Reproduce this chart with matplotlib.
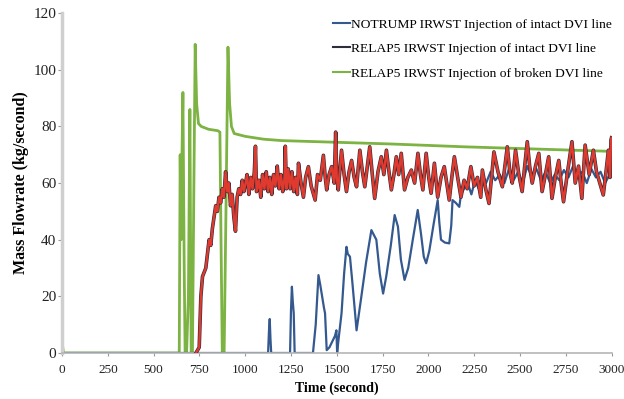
import matplotlib.pyplot as plt

plt.rcParams['font.family'] = ['Liberation Serif', 'DejaVu Serif']

# ===========================
# DATA
# ===========================
green_t = [0, 8, 640, 645, 650, 655, 660, 667, 672, 680,
           690, 698, 705, 712, 720, 727, 735, 745, 760, 800,
           850, 862, 868, 875, 885, 895, 906, 915, 925, 940,
           1000, 1100, 1200, 1400, 1600, 1800, 2000, 2200, 2400, 2600,
           2800, 2950, 2990]
green_v = [4, 0, 0, 70, 40, 70, 92, 30, 0, 0,
           20, 86, 0, 0, 60, 109, 88, 81, 80, 79,
           78.5, 78, 40, 0, 0, 50, 108, 88, 80, 77.5,
           76.5, 75.5, 75, 74.6, 74.2, 73.8, 73.3, 72.8, 72.4, 72,
           71.6, 71.3, 71.2]

blue_t = [0, 1125, 1130, 1134, 1138, 1142, 1245, 1250, 1255, 1260,
          1265, 1270, 1370, 1385, 1400, 1410, 1420, 1430, 1436, 1445,
          1460, 1475, 1490, 1498, 1502, 1510, 1526, 1540, 1553, 1560,
          1572, 1585, 1600, 1608, 1630, 1660, 1689, 1700, 1716, 1735,
          1753, 1770, 1795, 1816, 1834, 1850, 1870, 1890, 1915, 1942,
          1960, 1975, 1988, 2005, 2030, 2051, 2060, 2069, 2090, 2114,
          2125, 2132, 2150, 2169, 2178, 2195, 2215, 2235, 2255, 2275,
          2295, 2315, 2340, 2365, 2390, 2415, 2440, 2465, 2490, 2515,
          2540, 2565, 2590, 2615, 2640, 2665, 2690, 2715, 2740, 2765,
          2790, 2815, 2840, 2865, 2890, 2915, 2940, 2965, 2990]
blue_v = [0, 0, 8, 12, 5, 0, 0, 15, 23.4, 18,
          14, 0, 0, 10, 27.5, 24, 20, 16, 14, 1,
          2, 4, 6, 8, 0, 5, 14, 28, 37.5, 35,
          34, 25, 14, 8, 18, 32, 43.4, 42, 40, 28,
          21, 27, 38, 48.7, 44.6, 33, 25.8, 30, 40, 50.5,
          42, 34, 31.7, 36, 46, 54, 46, 40, 39, 38.7,
          45, 54, 53, 51.6, 56, 58, 60, 56, 61, 58,
          63, 60, 64, 61, 63, 60, 65, 61, 64, 60,
          66, 62, 65, 61, 64, 60, 63, 61, 64.6, 62,
          66, 62, 64, 60, 65, 62, 64, 60, 63]

red_t = [731, 749, 758, 767, 785, 803, 812, 821, 839, 848,
         857, 866, 875, 884, 893, 902, 911, 920, 929, 938,
         947, 956, 965, 975, 984, 993,
         1002, 1010, 1020, 1030, 1040, 1050, 1056, 1062, 1075, 1085,
         1095, 1105, 1115, 1125, 1135, 1145, 1155, 1165, 1175, 1185,
         1195, 1205, 1215, 1219, 1225, 1235, 1245, 1255, 1265, 1275,
         1285,
         1291, 1305, 1318, 1330, 1345, 1360, 1382, 1395, 1410, 1427,
         1437, 1445, 1458, 1472, 1486, 1494, 1500, 1508, 1526, 1540,
         1553, 1567, 1581, 1595, 1608, 1626, 1640, 1653, 1667, 1680,
         1694, 1707, 1725, 1743, 1757, 1771, 1785, 1798, 1812, 1825,
         1838, 1852, 1870, 1888, 1907, 1925, 1943, 1957, 1970, 1988,
         2002, 2015, 2033, 2051, 2069, 2087, 2100, 2114, 2128, 2142,
         2160, 2178,
         2195, 2212, 2232, 2250, 2268, 2286, 2295, 2313, 2331, 2345,
         2358, 2380, 2404, 2418, 2431, 2445, 2458, 2476, 2494, 2512,
         2526, 2540, 2553, 2567, 2585, 2603, 2621, 2639, 2657, 2675,
         2693, 2712, 2725, 2738, 2760, 2784, 2802, 2820, 2838, 2856,
         2878, 2901, 2918, 2936, 2955, 2970, 2983, 2992, 2997, 3000]
red_v = [0, 2, 20, 27, 30, 40, 38, 44, 52, 50,
         55, 53, 58, 55, 64, 57, 60, 52, 56, 48,
         43, 55, 58, 56, 61, 57,
         60, 63, 56, 62, 58, 64, 73, 57, 61, 55,
         63, 58, 64, 57, 62, 56, 63, 59, 66, 58,
         63, 57, 62, 73, 58, 65, 58, 64, 57, 62,
         56,
         67, 60, 55, 62, 65.8, 59, 54, 63, 61, 69.8,
         62, 57.6, 63, 65.8, 60, 78, 62, 57.6, 71.6, 63,
         57, 64, 68, 62, 58.7, 71.6, 64, 58.7, 66, 72.8,
         63, 54.6, 64, 69.3, 63, 71.6, 64, 57.6, 63, 69.3,
         63, 70.5, 57.6, 62, 64.6, 60, 70.5, 63, 57.6, 70.5,
         62, 56.4, 67, 55, 62, 65.8, 60, 54, 62, 69.3,
         62, 55,
         61, 58, 65.8, 59, 62, 55, 64.6, 58, 52.8, 62,
         71, 64, 58.7, 66, 72.8, 64, 60, 71.6, 63, 57,
         66, 74.6, 66, 60, 66, 70.5, 57, 63, 69.3, 54.6,
         62, 68, 60, 53.4, 64, 74.6, 60, 66, 54.6, 73.4,
         63, 71.6, 64, 60, 55.8, 64, 71.6, 62, 75.2, 76]

labels = ["NOTRUMP IRWST Injection of intact DVI line",
          "RELAP5 IRWST Injection of intact DVI line",
          "RELAP5 IRWST Injection of broken DVI line"]

x_ticks = [0, 250, 500, 750, 1000, 1250, 1500, 1750, 2000, 2250, 2500, 2750, 3000]
y_ticks = [0, 20, 40, 60, 80, 100, 120]


# ===========================
# PLOT
# ===========================
fig = plt.figure(figsize=(6.24, 3.99), dpi=100)
ax = fig.add_axes([0.0994, 0.1153, 0.8806, 0.8517])

ax.plot(blue_t, blue_v, color="#34598f", lw=1.6, label=labels[0], zorder=2)
ax.plot(red_t, red_v, color="#2d2d3c", lw=2.6, label=labels[1], zorder=3)
ax.plot(red_t, red_v, color="#e0392e", lw=1.7, zorder=4)
ax.plot(green_t, green_v, color="#7cb342", lw=2.0, label=labels[2], zorder=1)

ax.set_xlim(0, 3000)
ax.set_ylim(0, 120)
ax.set_xticks(x_ticks)
ax.set_yticks(y_ticks)
ax.tick_params(axis="x", labelsize=9.5, colors="#222222", length=2, pad=6)
ax.tick_params(axis="y", labelsize=11, colors="#222222", length=3, pad=1)
ax.tick_params(axis="both", color="#999999")

for side in ["top", "right"]:
    ax.spines[side].set_visible(False)
ax.spines["left"].set_color("#cfcfcf")
ax.spines["left"].set_linewidth(2.5)
ax.spines["bottom"].set_color("#b5b5b5")
ax.spines["bottom"].set_linewidth(1.2)

ax.set_xlabel("Time (second)", fontsize=10, fontweight="bold", labelpad=4)
ax.set_ylabel("Mass Flowrate (kg/second)", fontsize=11.5, fontweight="bold", labelpad=3)

leg = fig.legend(loc="upper right", bbox_to_anchor=(1.0, 0.985), frameon=False,
                 fontsize=9.7, handlelength=1.2, handletextpad=0.1, labelspacing=0.9)
for line in leg.get_lines():
    line.set_linewidth(1.5)

plt.savefig("out.png", dpi=100)
